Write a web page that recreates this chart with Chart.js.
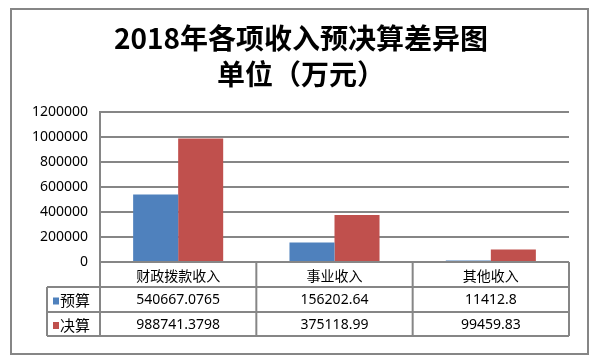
<!DOCTYPE html>
<html>
<head>
<meta charset="utf-8">
<script src="https://cdn.jsdelivr.net/npm/chart.js@4.4.1/dist/chart.umd.min.js"></script>
<style>
  body { margin: 0; background: #fff; }
  #wrap { width: 610px; height: 362px; }
</style>
</head>
<body>
<div id="wrap"><canvas id="myChart" width="610" height="362"></canvas></div>
<script>
const categories = ["财政拨款收入", "事业收入", "其他收入"];
const budget = [540667.0765, 156202.64, 11412.8];
const actual = [988741.3798, 375118.99, 99459.83];
const seriesNames = ["预算", "决算"];
const titleLines = ["2018年各项收入预决算差异图", "单位（万元）"];

const colors = ["#4F81BD", "#C0504D"];
const lineColor = "#868686";

// outer frame, title and the data table under the plot
const tablePlugin = {
  id: "tablePlugin",
  beforeDraw(chart) {
    const ctx = chart.ctx;
    ctx.save();
    ctx.fillStyle = "#fff";
    ctx.fillRect(0, 0, chart.width, chart.height);
    ctx.strokeStyle = lineColor;
    ctx.lineWidth = 2;
    ctx.strokeRect(11, 9, 577, 345);
    ctx.restore();
  },
  afterDraw(chart) {
    const ctx = chart.ctx;
    const area = chart.chartArea;
    const x = chart.scales.x;
    ctx.save();

    ctx.fillStyle = "#000";
    ctx.textAlign = "center";
    ctx.textBaseline = "middle";
    ctx.font = "bold 28px 'Noto Sans CJK SC'";
    ctx.fillText(titleLines[0], 301, 38);
    ctx.fillText(titleLines[1], 301, 74);

    const top = area.bottom;
    const rowH = [25, 25, 24];
    const rows = [top, top + rowH[0], top + rowH[0] + rowH[1], top + rowH[0] + rowH[1] + rowH[2]];
    const legendLeft = 47;
    const step = (area.right - area.left) / categories.length;
    const edges = [];
    for (let i = 0; i <= categories.length; i++) edges.push(area.left + step * i);

    ctx.strokeStyle = lineColor;
    ctx.lineWidth = 2;
    ctx.beginPath();
    ctx.moveTo(area.left, rows[0]); ctx.lineTo(area.right, rows[0]);
    for (let r = 1; r < rows.length; r++) {
      ctx.moveTo(legendLeft, rows[r]); ctx.lineTo(area.right, rows[r]);
    }
    ctx.moveTo(legendLeft, rows[1]); ctx.lineTo(legendLeft, rows[3]);
    edges.forEach(e => { ctx.moveTo(e, rows[0]); ctx.lineTo(e, rows[3]); });
    ctx.stroke();

    ctx.fillStyle = "#000";
    ctx.font = "14px 'Noto Sans CJK SC'";
    categories.forEach((c, i) => {
      ctx.fillText(c, x.getPixelForValue(i), (rows[0] + rows[1]) / 2 + 1);
    });

    const series = [budget, actual];
    ctx.font = "14px 'Noto Sans', 'Noto Sans CJK SC'";
    series.forEach((s, r) => {
      const cy = (rows[r + 1] + rows[r + 2]) / 2 + 1;
      s.forEach((v, i) => {
        ctx.fillText(String(v), x.getPixelForValue(i), cy);
      });
      ctx.fillStyle = colors[r];
      ctx.fillRect(53, cy - 3, 6, 7);
      ctx.fillStyle = "#000";
      ctx.textAlign = "left";
      ctx.font = "15px 'Noto Sans CJK SC'";
      ctx.fillText(seriesNames[r], 60, cy);
      ctx.textAlign = "center";
      ctx.font = "14px 'Noto Sans', 'Noto Sans CJK SC'";
    });

    ctx.restore();
  }
};

const ctx = document.getElementById("myChart").getContext("2d");
const myChart = new Chart(ctx, {
  type: "bar",
  data: {
    labels: categories,
    datasets: [
      { label: seriesNames[0], data: budget, backgroundColor: colors[0] },
      { label: seriesNames[1], data: actual, backgroundColor: colors[1] },
    ],
  },
  options: {
    responsive: false,
    animation: false,
    layout: { padding: { top: 112, bottom: 100, right: 41, left: 0 } },
    datasets: {
      bar: { categoryPercentage: 0.576, barPercentage: 1 },
    },
    plugins: {
      legend: { display: false },
      title: { display: false },
      tooltip: { enabled: false },
    },
    scales: {
      x: { display: false },
      y: {
        min: 0,
        max: 1200000,
        afterFit(scale) { scale.width = 100; },
        ticks: {
          stepSize: 200000,
          padding: 12,
          color: "#000",
          font: { family: "'Noto Sans'", size: 14 },
          callback: (v) => String(v),
        },
        grid: { color: lineColor, lineWidth: 2, drawTicks: false },
        border: { display: true, color: lineColor, width: 2 },
      },
    },
  },
  plugins: [tablePlugin],
});
</script>
</body>
</html>
